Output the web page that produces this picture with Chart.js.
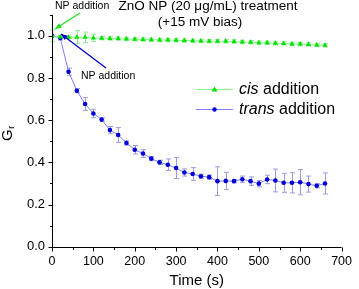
<!DOCTYPE html>
<html>
<head>
<meta charset="utf-8">
<script src="https://cdn.jsdelivr.net/npm/chart.js@4.4.0/dist/chart.umd.min.js"></script>
<style>
html,body{margin:0;padding:0;background:#fff;}
#wrap{width:359px;height:289px;position:relative;}
</style>
</head>
<body>
<div id="wrap"><canvas id="c"></canvas></div>
<script>
const times = [0,20,40,60,80,100,120,140,160,180,200,220,240,260,280,300,320,340,360,380,400,420,440,460,480,500,520,540,560,580,600,620,640,660];
const cisValues = [1.0,0.995,0.993,0.994,0.993,0.990,0.989,0.988,0.987,0.985,0.984,0.983,0.982,0.981,0.980,0.979,0.978,0.977,0.976,0.975,0.975,0.974,0.973,0.971,0.970,0.968,0.967,0.965,0.964,0.962,0.961,0.959,0.957,0.955];
const cisErrors = [0.028,0.005,0.005,0.031,0.025,0.016,0.008,0.008,0.008,0.008,0.008,0.008,0.008,0.008,0.008,0.008,0.008,0.008,0.008,0.008,0.008,0.008,0.008,0.008,0.008,0.008,0.008,0.008,0.008,0.008,0.008,0.008,0.008,0.008];
const transValues = [1.0,0.99,0.83,0.74,0.677,0.632,0.603,0.553,0.53,0.492,0.46,0.442,0.418,0.40,0.389,0.373,0.352,0.345,0.334,0.33,0.311,0.312,0.311,0.32,0.311,0.299,0.319,0.314,0.303,0.303,0.306,0.297,0.289,0.30];
const transErrors = [0,0.01,0.017,0.01,0.03,0.02,0.008,0.017,0.035,0.01,0.02,0.018,0.01,0.01,0.027,0.05,0.017,0.03,0.01,0.01,0.068,0.041,0.008,0.015,0.02,0.015,0.02,0.054,0.045,0.048,0.06,0.038,0.01,0.05];
const yTicksMajor = [0,0.2,0.4,0.6,0.8,1.0];
const xTicksMajor = [0,100,200,300,400,500,600,700];
const seriesNames = ["cis","trans"];

const FONT = "'Liberation Sans', Arial, sans-serif";
const GREEN_LINE = '#7dff7d', GREEN_PT = '#00e000', GREEN_ERR = '#8fef8f';
const BLUE_LINE = '#7f7fff', BLUE_PT = '#0000d8', BLUE_ERR = '#9a9ae6';

const cisData = times.map((t,i)=>({x:t,y:cisValues[i]}));
const transData = times.map((t,i)=>({x:t,y:transValues[i]}));

const errorBars = {
  id:'errorBars',
  beforeDatasetsDraw(chart){
    const ctx = chart.ctx, xs = chart.scales.x, ys = chart.scales.y;
    const sets = [[transValues,transErrors,BLUE_ERR],[cisValues,cisErrors,GREEN_ERR]];
    ctx.save();
    ctx.lineWidth = 1;
    sets.forEach(([vals,errs,col])=>{
      ctx.strokeStyle = col;
      vals.forEach((v,i)=>{
        const e = errs[i]; if(!e) return;
        const px = Math.round(xs.getPixelForValue(times[i]))+0.5;
        const y1 = ys.getPixelForValue(v+e), y2 = ys.getPixelForValue(v-e);
        ctx.beginPath();
        ctx.moveTo(px,y1); ctx.lineTo(px,y2);
        ctx.moveTo(px-2.5,y1); ctx.lineTo(px+2.5,y1);
        ctx.moveTo(px-2.5,y2); ctx.lineTo(px+2.5,y2);
        ctx.stroke();
      });
    });
    ctx.restore();
  }
};

const decor = {
  id:'decor',
  afterDraw(chart){
    const ctx = chart.ctx, xs = chart.scales.x, ys = chart.scales.y;
    const ca = chart.chartArea;
    ctx.save();
    // axis lines & ticks
    ctx.strokeStyle = '#000'; ctx.lineWidth = 1;
    const ax = Math.round(ca.left)+0.5, ay = Math.round(ca.bottom)+0.5;
    ctx.beginPath();
    ctx.moveTo(ax, ca.top); ctx.lineTo(ax, ay);
    ctx.lineTo(ca.right, ay);
    for(let v=0; v<=1.1001; v+=0.1){
      const py = Math.round(ys.getPixelForValue(v))+0.5;
      const major = yTicksMajor.some(m=>Math.abs(m-v)<1e-6);
      ctx.moveTo(ax, py); ctx.lineTo(ax-(major?4:2.5), py);
    }
    for(let v=0; v<=700; v+=50){
      const px = Math.round(xs.getPixelForValue(v))+0.5;
      const major = xTicksMajor.includes(v);
      ctx.moveTo(px, ay); ctx.lineTo(px, ay+(major?4:2.5));
    }
    ctx.stroke();

    // titles
    ctx.fillStyle = '#000';
    ctx.textBaseline = 'alphabetic';
    ctx.textAlign = 'center';
    ctx.font = '13.5px ' + FONT;
    ctx.fillText('ZnO NP (20 \u03bcg/mL) treatment', 208, 10);
    ctx.fillText('(+15 mV bias)', 200, 26);

    // x axis title
    ctx.font = '15px ' + FONT;
    ctx.fillText('Time (s)', (ca.left+ca.right)/2, 285);

    // y axis title G_r
    ctx.save();
    ctx.translate(8, 141);
    ctx.rotate(-Math.PI/2);
    ctx.textAlign = 'left';
    ctx.textBaseline = 'middle';
    ctx.font = '15px ' + FONT;
    ctx.fillText('G', 0, 0);
    const gw = ctx.measureText('G').width;
    ctx.font = '9px ' + FONT;
    ctx.fillText('r', gw+0.5, 4);
    ctx.restore();

    // annotations
    ctx.font = '10.5px ' + FONT;
    ctx.textAlign = 'left';
    ctx.fillText('NP addition', 55, 9);
    ctx.fillText('NP addition', 81, 79);
    const arrow = (x1,y1,x2,y2,col)=>{
      ctx.strokeStyle = col; ctx.fillStyle = col; ctx.lineWidth = 1.3;
      ctx.beginPath(); ctx.moveTo(x1,y1); ctx.lineTo(x2,y2); ctx.stroke();
      const a = Math.atan2(y2-y1,x2-x1), L = 7, w = 0.38;
      ctx.beginPath();
      ctx.moveTo(x2,y2);
      ctx.lineTo(x2 - L*Math.cos(a-w), y2 - L*Math.sin(a-w));
      ctx.lineTo(x2 - L*Math.cos(a+w), y2 - L*Math.sin(a+w));
      ctx.closePath(); ctx.fill();
    };
    arrow(80, 13, 55, 29, '#22dd22');
    arrow(106, 68, 61, 34, '#0000cc');

    // legend
    const leg = [[GREEN_LINE,GREEN_PT,'triangle',89.5],[BLUE_LINE,BLUE_PT,'circle',109.5]];
    leg.forEach(([lc,pc,st,y],i)=>{
      ctx.strokeStyle = lc; ctx.lineWidth = 1;
      ctx.beginPath(); ctx.moveTo(196,y); ctx.lineTo(233,y); ctx.stroke();
      ctx.fillStyle = pc;
      ctx.beginPath();
      if(st==='triangle'){ ctx.moveTo(214.5,y-3); ctx.lineTo(217.5,y+2); ctx.lineTo(211.5,y+2); ctx.closePath(); }
      else { ctx.arc(214.5,y,2.2,0,Math.PI*2); }
      ctx.fill();
      ctx.fillStyle = '#000';
      ctx.textBaseline = 'middle';
      ctx.font = 'italic 16px ' + FONT;
      ctx.fillText(seriesNames[i], 239, y);
      const w = ctx.measureText(seriesNames[i]).width;
      ctx.font = '16px ' + FONT;
      ctx.fillText(' addition', 239+w, y);
    });
    ctx.restore();
  }
};

new Chart(document.getElementById('c'), {
  type:'line',
  data:{
    datasets:[
      {label:'trans addition', data:transData, borderColor:BLUE_LINE, borderWidth:1, pointStyle:'circle', pointRadius:2.3, pointBackgroundColor:BLUE_PT, pointBorderColor:BLUE_PT, pointBorderWidth:0, tension:0, order:2},
      {label:'cis addition', data:cisData, borderColor:GREEN_LINE, borderWidth:1, pointStyle:'triangle', pointRadius:3, pointBackgroundColor:GREEN_PT, pointBorderColor:GREEN_PT, pointBorderWidth:0, tension:0, order:1}
    ]
  },
  options:{
    responsive:true, maintainAspectRatio:false, animation:false,
    layout:{padding:{top:8,right:11,left:0,bottom:0}},
    plugins:{legend:{display:false}, tooltip:{enabled:false}},
    scales:{
      x:{type:'linear', min:0, max:700,
        afterFit(s){ s.height = 42.3; },
        grid:{display:false, drawTicks:false}, border:{display:false},
        afterBuildTicks(s){ s.ticks = xTicksMajor.map(v=>({value:v})); },
        ticks:{font:{family:FONT,size:12.5}, color:'#000', padding:7, maxRotation:0, autoSkip:false}
      },
      y:{type:'linear', min:0, max:1.1,
        afterFit(s){ s.width = 52; },
        grid:{display:false, drawTicks:false}, border:{display:false},
        afterBuildTicks(s){ s.ticks = yTicksMajor.map(v=>({value:v})); },
        ticks:{font:{family:FONT,size:13}, color:'#000', padding:7, autoSkip:false, callback:v=>v.toFixed(1)}
      }
    }
  },
  plugins:[errorBars, decor]
});
</script>
</body>
</html>
